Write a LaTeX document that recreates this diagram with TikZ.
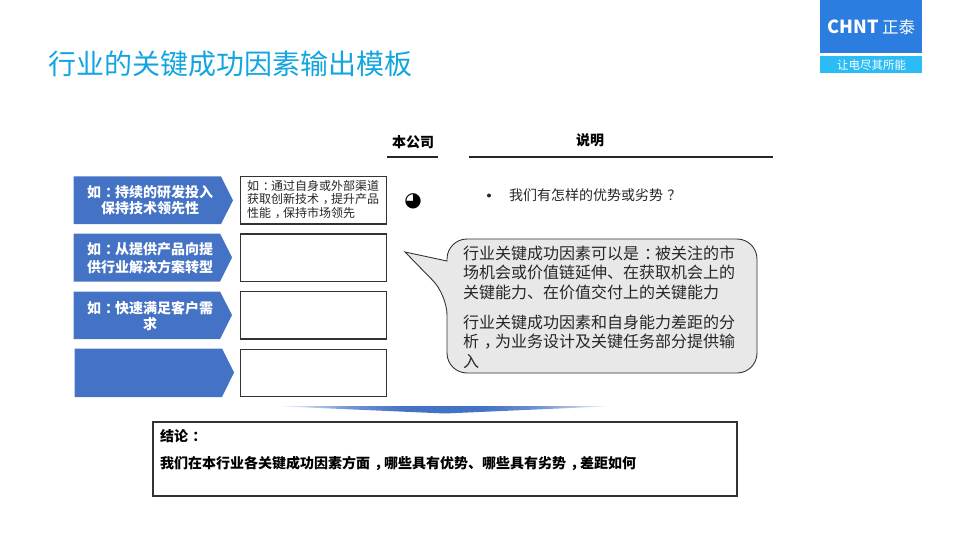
\documentclass[tikz,border=0pt]{standalone}
\usepackage{fontspec}
\setmainfont{Noto Sans CJK SC}
\usepackage{tikz}
\usetikzlibrary{positioning,calc}
\definecolor{TitleBlue}{HTML}{12A5DF}
\definecolor{ChevBlue}{HTML}{4472C4}
\definecolor{LogoBlue}{HTML}{2B7DE0}
\definecolor{LogoCyan}{HTML}{2BBBF5}
\pgfdeclarehorizontalshading{fadeblue}{100bp}{color(0bp)=(white);color(25bp)=(white);
  color(36bp)=(ChevBlue!75);color(44bp)=(ChevBlue);color(56bp)=(ChevBlue);
  color(64bp)=(ChevBlue!75);color(75bp)=(white);color(100bp)=(white)}
% full-width marks sit in the middle of their cell
\newcommand{\midmark}[1]{\kern.3em #1\kern-.3em}

\begin{document}
\begin{tikzpicture}[
  x=1pt,y=-1pt,
  txt/.style={inner sep=0pt,align=left,text=black!85},
  chev/.style={fill=ChevBlue,draw=none},
  chevtext/.style={inner sep=0pt,align=center,text=white,
              font=\fontsize{14}{16}\selectfont\bfseries},
  box/.style={rectangle,draw=black!80,line width=1.3pt,fill=white,inner sep=0pt,
              minimum width=146pt,minimum height=47.5pt},
  head/.style={inner sep=0pt,font=\fontsize{14}{17}\selectfont\bfseries},
  rule/.style={draw=black!85,line width=1.2pt}
]
  \useasboundingbox (0,0) rectangle (960,540);

  % title and logo
  \node[inner sep=0pt,anchor=west,text=TitleBlue,font=\fontsize{28}{32}\selectfont] (title) at (48,64)
    {行业的关键成功因素输出模板};
  \fill[LogoBlue] (820,0) rectangle (922,53.5);
  \fill[LogoCyan] (820,56.5) rectangle (922,73.5);
  \node[inner sep=0pt,text=white,font=\fontsize{18}{20}\selectfont\bfseries] (logo) at (853,27) {CHNT};
  \node[inner sep=0pt,text=white,font=\fontsize{16.5}{18}\selectfont] (logocn) at (898.5,27.5) {正泰};
  \node[inner sep=0pt,text=white,font=\fontsize{11.5}{13}\selectfont] (slogan) at (871.5,65) {让电尽其所能};

  % left column
  \fill[chev] (73.5,176.5) -- (221,176.5) -- (233,200.5) -- (221,224) -- (73.5,224) -- cycle;
  \fill[chev] (73.5,233.5) -- (220,233.5) -- (232,257.5) -- (220,281.5) -- (73.5,281.5) -- cycle;
  \fill[chev] (73.5,291.5) -- (220,291.5) -- (232,315) -- (220,339) -- (73.5,339) -- cycle;
  \fill[chev] (74.5,348.5) -- (222,348.5) -- (234,372.5) -- (222,397) -- (74.5,397) -- cycle;
  \node[chevtext] (c1) at (150,200.5) {如\midmark{：}持续的研发投入\\保持技术领先性};
  \node[chevtext,font=\fontsize{14}{18}\selectfont\bfseries] (c2) at (150,258) {如\midmark{：}从提供产品向提\\供行业解决方案转型};
  \node[chevtext] (c3) at (150,316) {如\midmark{：}快速满足客户需\\求};

  \node[box] (b1) at (313.7,200.3) {};
  \node[box] (b2) at (313.7,257.8) {};
  \node[box] (b3) at (313.7,315.3) {};
  \node[box] (b4) at (313.7,373) {};
  \node[txt,anchor=west,font=\fontsize{12}{13.5}\selectfont] (b1t) at (247,199.5)
    {如\midmark{：}通过自身或外部渠道\\获取创新技术\midmark{，}提升产品\\性能\midmark{，}保持市场领先};

  % headers
  \node[head] (own) at (413,142) {本公司};
  \node[head] (note) at (590,140) {说明};
  \draw[rule] (387,157) -- (438,157);
  \draw[rule] (469,157) -- (773,157);

  \node[inner sep=0pt,font=\fontspec{DejaVu Sans}\fontsize{20}{22}\selectfont] (ball) at (413,201) {◕};
  \fill[black!85] (489,195.5) circle (2pt);
  \node[txt,anchor=west,font=\fontsize{14}{17}\selectfont] (q) at (509,195) {我们有怎样的优势或劣势\midmark{？}};

  % callout
  \draw[fill=black!9,draw=black!80,line width=0.9pt]
    (405,252) -- (447,261) [rounded corners=20pt] -- (447,239) -- (757,239)
    -- (757,373) -- (447,373) -- (447,295) [sharp corners] -- cycle;
  \node[txt,anchor=north west,font=\fontsize{16}{19.5}\selectfont] (s1) at (463,245.5)
    {行业关键成功因素可以是\midmark{：}被关注的市\\场机会或价值链延伸、在获取机会上的\\关键能力、在价值交付上的关键能力};
  \node[txt,anchor=north west,font=\fontsize{16}{19.5}\selectfont] (s2) at (463,314.5)
    {行业关键成功因素和自身能力差距的分\\析\midmark{，}为业务设计及关键任务部分提供输\\入};

  % conclusion
  \shade[shading=fadeblue]
    (273,406) -- (616,406) -- (445,413.5) -- cycle;
  \node[box,minimum width=584pt,minimum height=74pt] (res) at (445,459) {};
  \node[txt,anchor=west,text=black,font=\fontsize{14}{17}\selectfont\bfseries] (res1) at (160,436) {结论\midmark{：}};
  \node[txt,anchor=west,text=black,font=\fontsize{14}{17}\selectfont\bfseries] (res2) at (160,463)
    {我们在本行业各关键成功因素方面\midmark{，}哪些具有优势、哪些具有劣势\midmark{，}差距如何};
\end{tikzpicture}
\end{document}
